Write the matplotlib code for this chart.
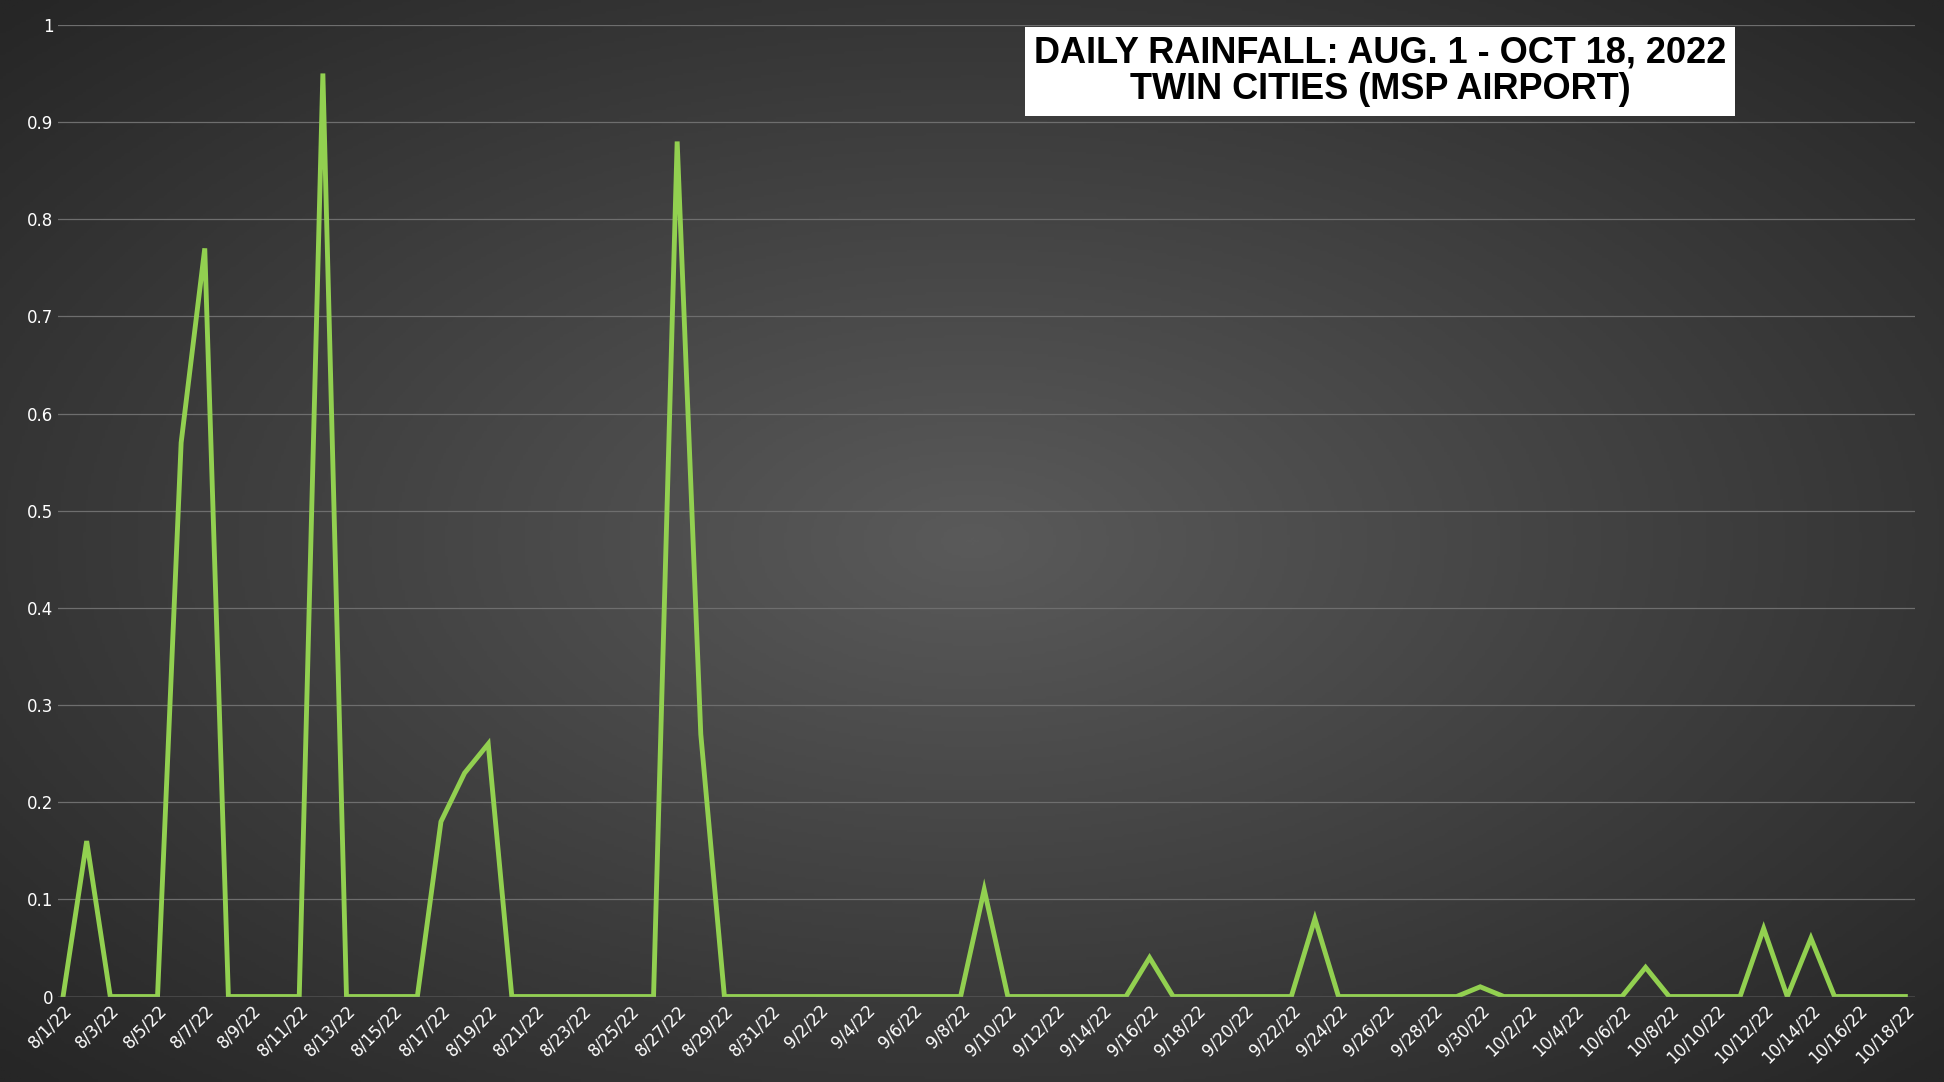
import numpy as np
import matplotlib
matplotlib.use("Agg")
import matplotlib.pyplot as plt
import pandas as pd

dates = pd.date_range("2022-08-01", "2022-10-18", freq="D")
rain = {"2022-08-02": 0.16, "2022-08-06": 0.57, "2022-08-07": 0.77, "2022-08-12": 0.95,
        "2022-08-17": 0.18, "2022-08-18": 0.23, "2022-08-19": 0.26, "2022-08-27": 0.88,
        "2022-08-28": 0.27, "2022-09-09": 0.11, "2022-09-16": 0.04, "2022-09-23": 0.08,
        "2022-09-30": 0.01, "2022-10-07": 0.03, "2022-10-12": 0.07, "2022-10-14": 0.06}
values = [rain.get(d.strftime("%Y-%m-%d"), 0.0) for d in dates]
labels = [f"{d.month}/{d.day}/22" for d in dates]

fig = plt.figure(figsize=(19.44, 10.82), dpi=100)
bg = fig.add_axes([0, 0, 1, 1])
yy, xx = np.mgrid[-1:1:400j, -1:1:700j]
r = np.sqrt(xx**2 + yy**2)
bg.imshow(np.clip(r / 1.4, 0, 1), cmap=matplotlib.colors.LinearSegmentedColormap.from_list("g", ["#5a5a5a", "#262626"]),
          aspect="auto", extent=[0, 1, 0, 1])
bg.axis("off")

ax = fig.add_axes([0.030, 0.079, 0.955, 0.898])
ax.patch.set_alpha(0)
x = np.arange(len(dates))
ax.plot(x, values, color="#92d050", lw=3.5, solid_joinstyle="miter")
ax.set_xlim(-0.2, len(dates) - 0.6)
ax.set_ylim(0, 1)
ax.set_yticks(np.arange(0, 1.01, 0.1))
ax.set_yticklabels(["0", "0.1", "0.2", "0.3", "0.4", "0.5", "0.6", "0.7", "0.8", "0.9", "1"])
ax.set_xticks(x[::2])
ax.set_xticklabels(labels[::2], rotation=45, ha="right", rotation_mode="anchor")
ax.tick_params(colors="white", labelsize=12, length=0)
ax.grid(axis="y", color="#6e6e6e", lw=0.9)
for s in ax.spines.values():
    s.set_visible(False)
ax.axhline(0, color="#8a8a8a", lw=1)
fig.text(0.710, 0.934, "DAILY RAINFALL: AUG. 1 - OCT 18, 2022\nTWIN CITIES (MSP AIRPORT)",
         ha="center", va="center", fontsize=26, fontweight="bold", family="Liberation Sans",
         color="black", linespacing=1.05,
         bbox=dict(facecolor="white", edgecolor="none", boxstyle="square,pad=0.25"))
fig.savefig("out.png", dpi=100)
